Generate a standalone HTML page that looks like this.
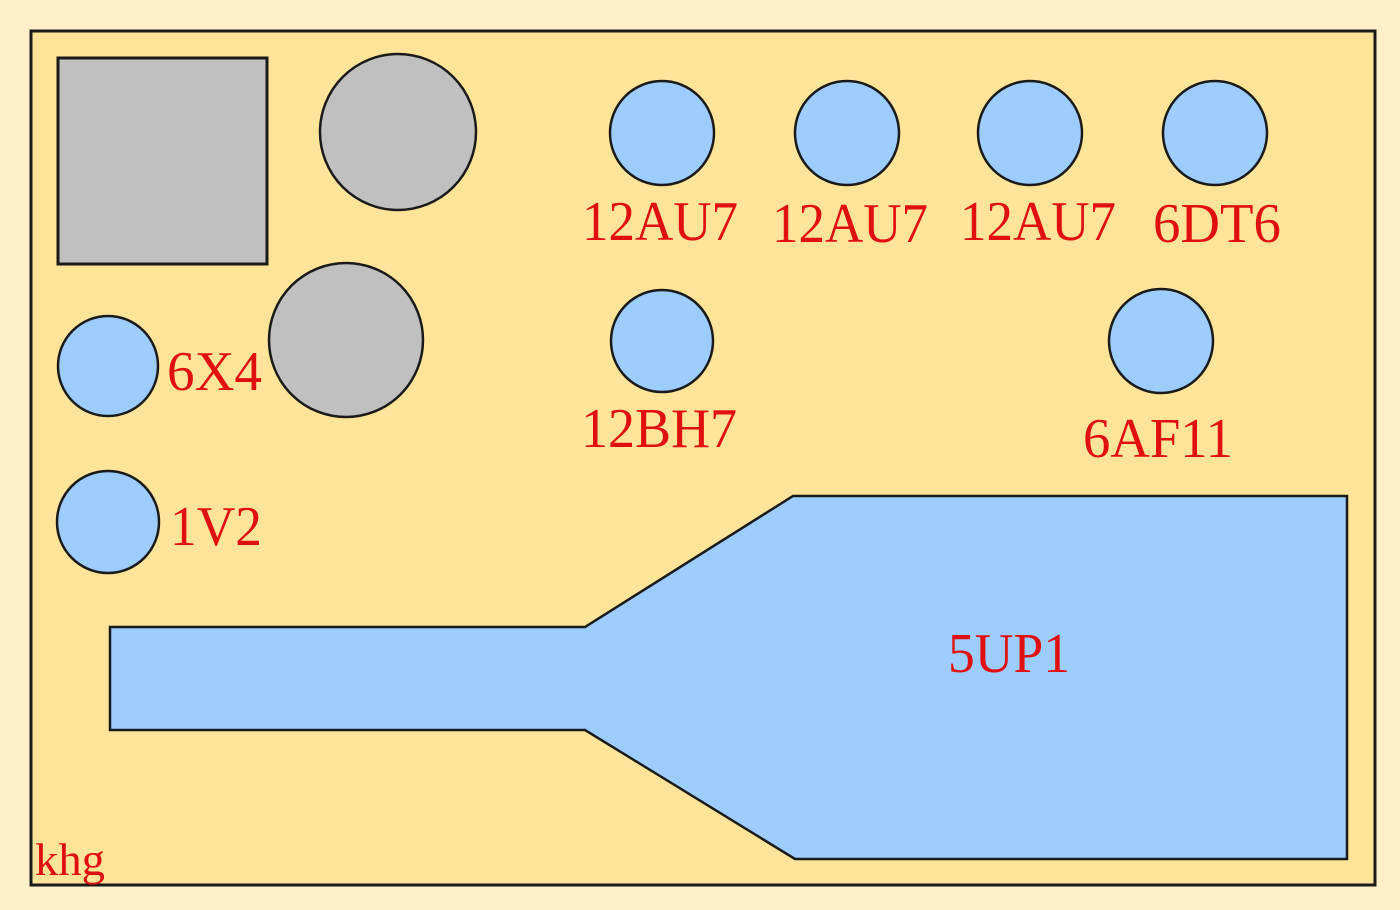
<!DOCTYPE html>
<html><head><meta charset="utf-8"><style>
html,body{margin:0;padding:0;background:#fdf0c8;}
svg{display:block}
text{font-family:"Liberation Serif",serif;fill:#e01010;}
</style></head><body>
<svg width="1400" height="910" viewBox="0 0 1400 910" xmlns="http://www.w3.org/2000/svg">
<rect x="0" y="0" width="1400" height="910" fill="#fdf0c8"/>
<rect x="31" y="31" width="1344" height="854" fill="#fde498" stroke="#1a1a1a" stroke-width="3"/>
<rect x="58" y="58" width="209" height="206" fill="#c0c0c0" stroke="#1a1a1a" stroke-width="3"/>
<g stroke="#1a1a1a" stroke-width="2.5">
<circle cx="398" cy="132" r="78" fill="#c0c0c0"/>
<circle cx="346" cy="340" r="77" fill="#c0c0c0"/>
<g fill="#9dcdfd">
<circle cx="662" cy="133" r="52"/>
<circle cx="847" cy="133" r="52"/>
<circle cx="1030" cy="133" r="52"/>
<circle cx="1215" cy="133" r="52"/>
<circle cx="662" cy="341" r="51"/>
<circle cx="1161" cy="341" r="52"/>
<circle cx="108" cy="366" r="50"/>
<circle cx="108" cy="522" r="51"/>
<polygon points="110,627 585,627 793,496 1347,496 1347,859 795,859 585,730 110,730"/>
</g></g>
<g font-size="56">
<text x="582" y="240" textLength="156" lengthAdjust="spacingAndGlyphs">12AU7</text>
<text x="772" y="242" textLength="156" lengthAdjust="spacingAndGlyphs">12AU7</text>
<text x="960" y="240" textLength="156" lengthAdjust="spacingAndGlyphs">12AU7</text>
<text x="1153" y="242" textLength="128" lengthAdjust="spacingAndGlyphs">6DT6</text>
<text x="581" y="447" textLength="156" lengthAdjust="spacingAndGlyphs">12BH7</text>
<text x="1083" y="457" textLength="150" lengthAdjust="spacingAndGlyphs">6AF11</text>
<text x="167" y="390" textLength="95" lengthAdjust="spacingAndGlyphs">6X4</text>
<text x="170" y="545" textLength="92" lengthAdjust="spacingAndGlyphs">1V2</text>
<text x="948" y="672" textLength="122" lengthAdjust="spacingAndGlyphs">5UP1</text>
</g>
<text x="35" y="875" font-size="46" textLength="70" lengthAdjust="spacingAndGlyphs">khg</text>
</svg>
</body></html>
